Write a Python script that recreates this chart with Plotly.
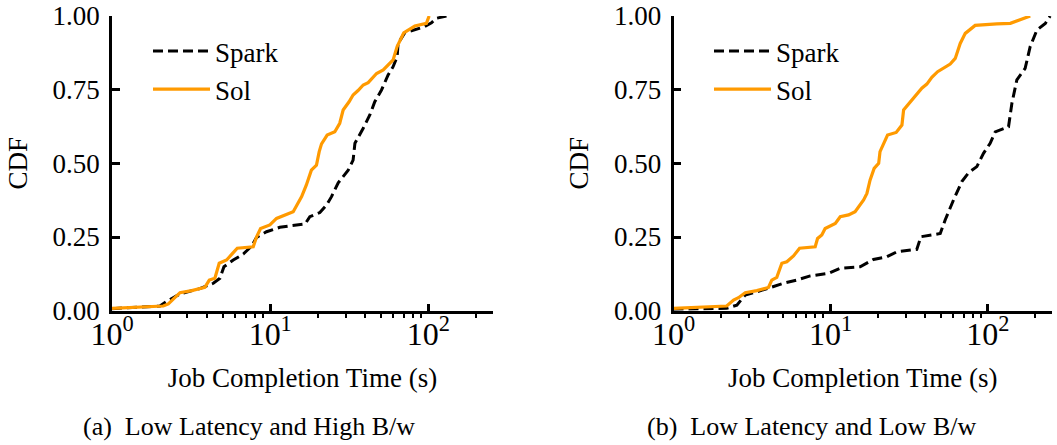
import plotly.graph_objects as go

# ---------------- data ----------------
# Panel (a): Low Latency and High B/w
spark_a_x = [1.0, 2.01, 2.21, 2.69, 3.59, 4.37, 4.81, 5.10, 5.84, 6.75, 7.62, 8.20, 9.48, 11.5, 13.3,
             16.6, 17.8, 20.6, 22.7, 24.4, 26.9, 31.1, 33.4, 34.3, 38.7, 42.6, 45.8, 50.5, 55.6, 59.8,
             63.4, 64.3, 70.9, 80.0, 94.8, 104.5, 112.0, 130.0]
spark_a_y = [0.007, 0.016, 0.031, 0.057, 0.075, 0.093, 0.110, 0.149, 0.172, 0.192, 0.219, 0.249, 0.268,
             0.283, 0.288, 0.294, 0.319, 0.333, 0.359, 0.387, 0.434, 0.477, 0.511, 0.568, 0.619, 0.664,
             0.709, 0.749, 0.800, 0.828, 0.862, 0.907, 0.943, 0.952, 0.964, 0.977, 0.992, 1.0]
sol_a_x = [1.0, 2.11, 2.27, 2.69, 3.19, 3.86, 4.12, 4.47, 4.76, 5.30, 5.84, 6.19, 7.81, 8.20, 8.69, 9.95,
           10.96, 13.97, 15.8, 16.9, 18.2, 19.6, 20.4, 21.1, 22.9, 25.6, 27.5, 28.9, 31.5, 33.4, 35.9,
           38.7, 41.6, 47.0, 51.8, 55.6, 59.8, 63.4, 69.8, 82.0, 97.1, 101.0]
sol_a_y = [0.008, 0.016, 0.023, 0.061, 0.068, 0.079, 0.104, 0.110, 0.161, 0.172, 0.197, 0.212, 0.217,
           0.251, 0.279, 0.291, 0.313, 0.336, 0.387, 0.426, 0.477, 0.494, 0.540, 0.566, 0.596, 0.607,
           0.636, 0.681, 0.709, 0.732, 0.747, 0.766, 0.774, 0.805, 0.817, 0.834, 0.851, 0.896, 0.943,
           0.966, 0.975, 1.0]

# Panel (b): Low Latency and Low B/w
spark_b_x = [1.0, 2.18, 2.53, 2.86, 3.39, 4.12, 5.01, 6.09, 7.41, 9.69, 11.5, 15.4, 18.7, 22.8, 26.4,
             35.3, 37.5, 49.8, 53.5, 60.5, 68.3, 75.3, 85.1, 93.8, 103.4, 111.4, 135.3, 142.2, 152.9,
             172.6, 185.8, 205.0, 232.0, 249.0]
spark_b_y = [0.005, 0.008, 0.019, 0.053, 0.064, 0.079, 0.093, 0.104, 0.118, 0.127, 0.144, 0.149, 0.174,
             0.183, 0.200, 0.208, 0.251, 0.262, 0.308, 0.376, 0.438, 0.468, 0.489, 0.534, 0.568, 0.607,
             0.624, 0.704, 0.783, 0.822, 0.896, 0.952, 0.975, 1.0]
sol_b_x = [1.0, 2.18, 2.41, 2.59, 2.86, 3.39, 4.02, 4.22, 4.54, 4.89, 5.26, 5.80, 6.34, 7.97, 8.25, 8.78,
           9.22, 10.7, 11.5, 13.0, 14.3, 16.2, 17.0, 17.8, 18.9, 20.2, 20.6, 21.9, 23.0, 26.1, 28.4,
           29.1, 32.1, 35.0, 38.0, 40.9, 44.0, 47.9, 52.3, 57.6, 62.0, 66.7, 71.8, 83.0, 114.0, 139.0,
           186.0]
sol_b_y = [0.008, 0.016, 0.036, 0.044, 0.061, 0.068, 0.079, 0.104, 0.113, 0.161, 0.166, 0.186, 0.212,
           0.217, 0.245, 0.257, 0.279, 0.296, 0.319, 0.325, 0.336, 0.376, 0.398, 0.443, 0.483, 0.500,
           0.540, 0.568, 0.596, 0.605, 0.630, 0.681, 0.709, 0.734, 0.755, 0.769, 0.792, 0.811, 0.822,
           0.837, 0.856, 0.907, 0.941, 0.968, 0.973, 0.975, 1.0]

series_names = ["Spark", "Sol"]
x_tick_vals = [1, 10, 100]
x_tick_text = ["10<sup>0</sup>", "10<sup>1</sup>", "10<sup>2</sup>"]
x_minor_vals = [2, 3, 4, 5, 6, 7, 8, 9, 20, 30, 40, 50, 60, 70, 80, 90, 200]
y_tick_vals = [0, 0.25, 0.5, 0.75, 1.0]
y_tick_text = ["0.00", "0.25", "0.50", "0.75", "1.00"]
x_title = "Job Completion Time (s)"
y_title = "CDF"
captions = ["(a)\u00a0 Low Latency and High B/w", "(b)\u00a0 Low Latency and Low B/w"]

# ---------------- style ----------------
W, H = 1057, 445
FONT = "Liberation Serif, Times New Roman, serif"
ORANGE = "#FF9A00"
spark_line = dict(color="black", width=3, dash="10px,5px")
sol_line = dict(color=ORANGE, width=3.2)

fig = go.Figure()
panels = [
    (spark_a_x, spark_a_y, sol_a_x, sol_a_y, "x", "y", "legend"),
    (spark_b_x, spark_b_y, sol_b_x, sol_b_y, "x2", "y2", "legend2"),
]
for sx, sy, ox, oy, xa, ya, lg in panels:
    fig.add_trace(go.Scatter(x=sx, y=sy, mode="lines", name=series_names[0], line=spark_line,
                             xaxis=xa, yaxis=ya, legend=lg))
    fig.add_trace(go.Scatter(x=ox, y=oy, mode="lines", name=series_names[1], line=sol_line,
                             xaxis=xa, yaxis=ya, legend=lg))

def px_x(p):
    return p / W

def px_y(p):
    return (H - p) / H

xdomains = [[px_x(112), px_x(493)], [px_x(673.5), px_x(1052)]]
ydomain = [px_y(310.7), px_y(16)]

xcommon = dict(
    type="log", range=[0, 2.408], showgrid=False, zeroline=False,
    showline=True, linecolor="black", linewidth=2.5,
    tickmode="array", tickvals=x_tick_vals, ticktext=x_tick_text,
    ticks="inside", ticklen=7, tickwidth=2.5, tickcolor="black",
    tickfont=dict(family=FONT, size=32, color="black"),
    ticklabelstandoff=-7,
    minor=dict(tickmode="array", tickvals=x_minor_vals, ticks="outside", ticklen=5,
               tickwidth=1.5, tickcolor="black", showgrid=False),
    title=dict(text=x_title, font=dict(family=FONT, size=27, color="black"), standoff=18),
    automargin=False,
)
ycommon = dict(
    range=[0, 1.0], showgrid=False, zeroline=False,
    showline=True, linecolor="black", linewidth=2.5,
    tickmode="array", tickvals=y_tick_vals, ticktext=y_tick_text,
    ticks="inside", ticklen=8, tickwidth=2.5, tickcolor="black",
    tickfont=dict(family=FONT, size=27, color="black"),
    ticklabelstandoff=4,
    title=dict(text=y_title, font=dict(family=FONT, size=27, color="black"), standoff=18),
    automargin=False,
)

legend_common = dict(
    font=dict(family=FONT, size=27, color="black"),
    bgcolor="rgba(0,0,0,0)", borderwidth=0,
    itemwidth=57, traceorder="normal", tracegroupgap=0,
    xanchor="left", yanchor="top",
)

fig.update_layout(
    width=W, height=H,
    margin=dict(l=0, r=0, t=0, b=0),
    paper_bgcolor="white", plot_bgcolor="white",
    font=dict(family=FONT, color="black"),
    xaxis=dict(domain=xdomains[0], anchor="y", **xcommon),
    yaxis=dict(domain=ydomain, anchor="x", **ycommon),
    xaxis2=dict(domain=xdomains[1], anchor="y2", **xcommon),
    yaxis2=dict(domain=ydomain, anchor="x2", **ycommon),
    legend=dict(x=px_x(148), y=px_y(27), **legend_common),
    legend2=dict(x=px_x(709), y=px_y(27), **legend_common),
    showlegend=True,
)

cap_x = [249, 811.5]
for cx, text in zip(cap_x, captions):
    fig.add_annotation(x=px_x(cx), y=px_y(426), xref="paper", yref="paper", text=text,
                       showarrow=False, xanchor="center", yanchor="middle",
                       font=dict(family=FONT, size=26, color="black"))

fig.write_html("out.html")
